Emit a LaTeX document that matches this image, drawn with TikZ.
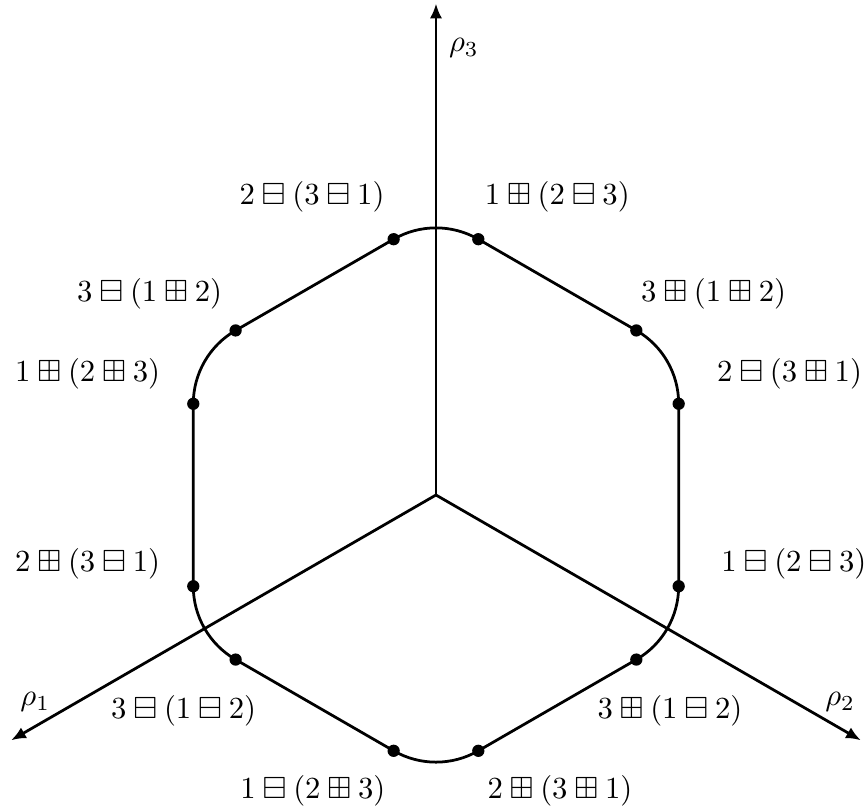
\documentclass[tikz,border=0pt]{standalone}
\usepackage{amsmath,amssymb}
\usetikzlibrary{arrows.meta,calc}

\begin{document}
\begin{tikzpicture}[
  axis/.style={line width=0.9pt, -{Latex[length=1.7mm,width=1.4mm]}},
  dot/.style={circle, fill=black, inner sep=0pt, minimum size=4pt},
  lab/.style={inner sep=1pt}
]
  \useasboundingbox (-4.994,-3.603) rectangle (4.903,5.670);
  % axes
  \coordinate (o) at (0,0);
  \coordinate (e1) at (210:5.62);
  \coordinate (e2) at (-30:5.62);
  \coordinate (e3) at (90:5.63);
  \draw[axis] (o) -- (e1);
  \draw[axis] (o) -- (e2);
  \draw[axis] (o) -- (e3);
  \node (r1) at (-4.59,-2.37) {$\rho_1$};
  \node (r2) at (4.63,-2.37) {$\rho_2$};
  \node (r3) at (0.32,5.12) {$\rho_3$};

  % arc centres of the rounded hexagon
  \coordinate (c1) at (90:2.09);
  \coordinate (c2) at (150:2.09);
  \coordinate (c3) at (210:2.09);
  \coordinate (c4) at (270:2.09);
  \coordinate (c5) at (330:2.09);
  \coordinate (c6) at (30:2.09);

  % points
  \node[dot] (d1) at ($(c1)+(120:0.97)$) {};
  \node[dot] (d2) at ($(c1)+(60:0.97)$) {};
  \node[dot] (d3) at ($(c2)+(120:0.97)$) {};
  \node[dot] (d4) at ($(c2)+(180:0.97)$) {};
  \node[dot] (d5) at ($(c3)+(180:0.97)$) {};
  \node[dot] (d6) at ($(c3)+(240:0.97)$) {};
  \node[dot] (d7) at ($(c4)+(240:0.97)$) {};
  \node[dot] (d8) at ($(c4)+(300:0.97)$) {};
  \node[dot] (d9) at ($(c5)+(300:0.97)$) {};
  \node[dot] (d10) at ($(c5)+(0:0.97)$) {};
  \node[dot] (d11) at ($(c6)+(0:0.97)$) {};
  \node[dot] (d12) at ($(c6)+(60:0.97)$) {};

  \draw[line width=0.9pt] (d2.center) arc[start angle=60, end angle=120, radius=0.97]
    -- (d3.center) arc[start angle=120, end angle=180, radius=0.97]
    -- (d5.center) arc[start angle=180, end angle=240, radius=0.97]
    -- (d7.center) arc[start angle=240, end angle=300, radius=0.97]
    -- (d9.center) arc[start angle=300, end angle=360, radius=0.97]
    -- (d11.center) arc[start angle=0, end angle=60, radius=0.97]
    -- cycle;

  % labels
  \node[lab] (l1) at (-1.42,3.41) {$2 \boxminus (3 \boxminus 1)$};
  \node[lab] (l2) at (1.39,3.41) {$1 \boxplus (2 \boxminus 3)$};
  \node[lab] (l3) at (-3.28,2.31) {$3 \boxminus (1 \boxplus 2)$};
  \node[lab] (l4) at (-3.99,1.39) {$1 \boxplus (2 \boxplus 3)$};
  \node[lab] (l5) at (-3.99,-0.79) {$2 \boxplus (3 \boxminus 1)$};
  \node[lab] (l6) at (-2.89,-2.47) {$3 \boxminus (1 \boxminus 2)$};
  \node[lab] (l7) at (-1.41,-3.39) {$1 \boxminus (2 \boxplus 3)$};
  \node[lab] (l8) at (1.42,-3.39) {$2 \boxplus (3 \boxplus 1)$};
  \node[lab] (l9) at (2.68,-2.47) {$3 \boxplus (1 \boxminus 2)$};
  \node[lab] (l10) at (4.10,-0.79) {$1 \boxminus (2 \boxminus 3)$};
  \node[lab] (l11) at (4.05,1.39) {$2 \boxminus (3 \boxplus 1)$};
  \node[lab] (l12) at (3.18,2.31) {$3 \boxplus (1 \boxplus 2)$};
\end{tikzpicture}
\end{document}
